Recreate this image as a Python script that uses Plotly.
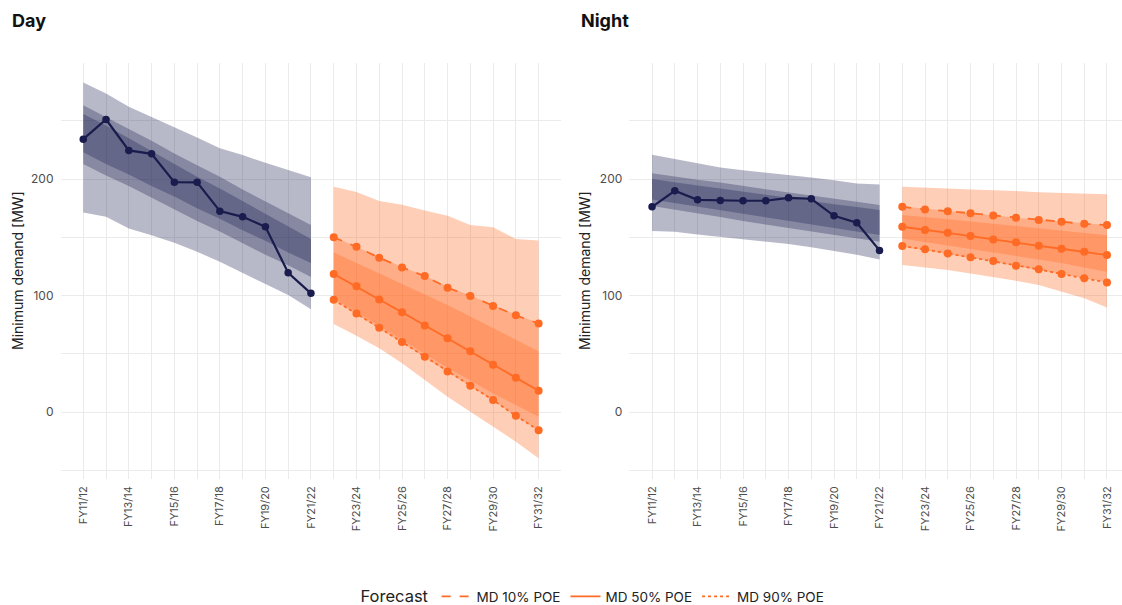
import plotly.graph_objects as go

# ---------------- data ----------------
fy_all = ["FY11/12", "FY12/13", "FY13/14", "FY14/15", "FY15/16", "FY16/17", "FY17/18",
          "FY18/19", "FY19/20", "FY20/21", "FY21/22", "FY22/23", "FY23/24", "FY24/25",
          "FY25/26", "FY26/27", "FY27/28", "FY28/29", "FY29/30", "FY30/31", "FY31/32"]
fy_actual = fy_all[:11]
fy_forecast = fy_all[11:]
tick_labels = ["FY11/12", "FY13/14", "FY15/16", "FY17/18", "FY19/20", "FY21/22",
               "FY23/24", "FY25/26", "FY27/28", "FY29/30", "FY31/32"]

# Day - actual and historical bands
day_actual = [234.3, 251.2, 224.6, 221.7, 197.4, 197.2, 172.5, 167.6, 159.1, 119.6, 101.9]
day_hist_outer_hi = [283.0, 273.6, 262.1, 253.5, 244.9, 235.8, 226.4, 220.6, 214.0, 207.7, 201.5]
day_hist_outer_lo = [171.4, 167.6, 157.7, 151.9, 145.3, 137.6, 129.0, 119.1, 109.9, 100.4, 88.2]
day_hist_mid_hi = [263.5, 253, 243, 233, 222, 212, 202, 191, 181, 171, 160.5]
day_hist_mid_lo = [213, 203, 194, 184, 174, 164, 155, 145, 135, 126, 116]
day_hist_in_hi = [256, 246, 235, 224, 213, 202, 192, 181, 170, 159, 148.5]
day_hist_in_lo = [223, 213, 204, 194, 185, 175, 166, 156, 147, 137, 128]

# Day - forecast
day_p10 = [150.0, 141.9, 132.4, 124.2, 116.7, 106.7, 99.6, 91.0, 83.0, 76.1]
day_p50 = [118.5, 107.9, 96.7, 85.6, 74.4, 63.3, 52.1, 40.6, 29.4, 18.3]
day_p90 = [96.4, 84.7, 72.4, 60.1, 47.5, 34.9, 22.6, 10.3, -3.2, -15.7]
day_fc_outer_hi = [193.4, 189, 181.3, 178, 173, 168.5, 160.5, 158.6, 148.5, 147.2]
day_fc_outer_lo = [75.5, 65.5, 54.7, 41.8, 27.5, 13.1, 0.3, -12.6, -25.5, -39.7]
day_fc_mid_hi = [150.5, 142, 133, 124.5, 117, 107.5, 100, 91.5, 83.5, 76.5]
day_fc_mid_lo = [96, 84, 72, 59.5, 47, 34.5, 22, 10, -3.5, -16]
day_fc_in_hi = [137, 128, 119, 110, 101, 92, 82, 72, 62, 52]
day_fc_in_lo = [98, 86, 74, 62, 50, 38, 27, 16, 6, -4]

# Night - actual and historical bands
night_actual = [176.2, 190.0, 182.2, 181.7, 181.4, 181.4, 183.9, 183.1, 168.5, 162.5, 138.8]
night_hist_outer_hi = [220.9, 217.2, 213.4, 210.0, 207.7, 205.7, 204.0, 201.4, 199.1, 196.3, 195.4]
night_hist_outer_lo = [155.4, 154.8, 152.5, 150.5, 148.5, 146.2, 144.2, 141.4, 138.2, 135.0, 131.0]
night_hist_mid_hi = [205, 202, 199.5, 197, 194, 191.5, 188.5, 186, 183, 180.5, 177.7]
night_hist_mid_lo = [177, 174, 170.5, 167.5, 164, 161, 158, 155, 152, 149, 146.2]
night_hist_in_hi = [200, 197, 194.5, 192, 189, 186.5, 184, 181, 178.5, 176, 173.4]
night_hist_in_lo = [182.6, 179.5, 176.5, 173, 170, 167, 164, 161, 158, 155, 152]

# Night - forecast
night_p10 = [176.2, 174.0, 172.5, 170.6, 168.8, 166.8, 164.8, 163.3, 161.6, 160.5]
night_p50 = [159.1, 156.2, 153.9, 151.1, 148.2, 145.7, 142.7, 140.2, 137.6, 134.8]
night_p90 = [142.5, 139.7, 136.2, 132.8, 129.6, 125.6, 122.5, 118.5, 114.8, 111.3]
night_fc_outer_hi = [193.4, 192.9, 192.0, 191.1, 190.6, 189.7, 188.8, 188.2, 187.7, 186.9]
night_fc_outer_lo = [126.2, 124.2, 121.9, 119.0, 116.1, 112.7, 109.0, 103.3, 97.6, 89.8]
night_fc_mid_hi = [176.5, 174.5, 173, 171, 169, 167, 165, 163.5, 162, 160.5]
night_fc_mid_lo = [142, 139, 136, 132.5, 129, 125.5, 122, 118.5, 115, 111.5]
night_fc_in_hi = [169.1, 167, 165.5, 163.5, 161.5, 160, 158, 156, 154, 151.9]
night_fc_in_lo = [149.1, 146, 143, 140, 137, 134, 131, 128, 124, 120.4]

y_ticks = [0, 100, 200]

# ---------------- styling ----------------
NAVY = "#1a1c4e"
ORANGE = "#ff6b24"
NAVY_FILL = "rgba(27,29,79,0.31)"
ORANGE_FILL = "rgba(255,107,36,0.33)"
FONT = "Inter, Lato, 'Noto Sans', sans-serif"
GRID = "#ebebeb"
TXT = "#4d4d4d"

W, H = 1122, 605
TOP, BOT = 63, 479
PH = BOT - TOP

pos = {lab: i for i, lab in enumerate(fy_all)}
xa = [pos[f] for f in fy_actual]
xf = [pos[f] for f in fy_forecast]
tickvals = [pos[t] for t in tick_labels]

fig = go.Figure()


def band(xs, lo, hi, fill, xax, yax):
    fig.add_trace(go.Scatter(x=xs, y=lo, mode="lines", line=dict(width=0),
                             showlegend=False, hoverinfo="skip", xaxis=xax, yaxis=yax))
    fig.add_trace(go.Scatter(x=xs, y=hi, mode="lines", line=dict(width=0),
                             fill="tonexty", fillcolor=fill,
                             showlegend=False, hoverinfo="skip", xaxis=xax, yaxis=yax))


panels = [
    ("x", "y", day_actual,
     (day_hist_outer_lo, day_hist_outer_hi), (day_hist_mid_lo, day_hist_mid_hi), (day_hist_in_lo, day_hist_in_hi),
     (day_fc_outer_lo, day_fc_outer_hi), (day_fc_mid_lo, day_fc_mid_hi), (day_fc_in_lo, day_fc_in_hi),
     day_p10, day_p50, day_p90),
    ("x2", "y2", night_actual,
     (night_hist_outer_lo, night_hist_outer_hi), (night_hist_mid_lo, night_hist_mid_hi), (night_hist_in_lo, night_hist_in_hi),
     (night_fc_outer_lo, night_fc_outer_hi), (night_fc_mid_lo, night_fc_mid_hi), (night_fc_in_lo, night_fc_in_hi),
     night_p10, night_p50, night_p90),
]

for (xax, yax, actual, ho, hm, hi_, fo, fm, fi, p10, p50, p90) in panels:
    for lo, hi in (ho, hm, hi_):
        band(xa, lo, hi, NAVY_FILL, xax, yax)
    for lo, hi in (fo, fm, fi):
        band(xf, lo, hi, ORANGE_FILL, xax, yax)
    fig.add_trace(go.Scatter(x=xa, y=actual, mode="lines+markers",
                             line=dict(color=NAVY, width=2.2), marker=dict(color=NAVY, size=7.5),
                             showlegend=False, xaxis=xax, yaxis=yax))
    for vals, dash in ((p10, "dash"), (p50, "solid"), (p90, "dot")):
        fig.add_trace(go.Scatter(x=xf, y=vals, mode="lines+markers",
                                 line=dict(color=ORANGE, width=1.8, dash=dash),
                                 marker=dict(color=ORANGE, size=8),
                                 showlegend=False, xaxis=xax, yaxis=yax))

# legend-only entries
for name, dash in (("MD 10% POE", "dash"), ("MD 50% POE", "solid"), ("MD 90% POE", "dot")):
    fig.add_trace(go.Scatter(x=[None], y=[None], mode="lines", name=name,
                             line=dict(color=ORANGE, width=1.8, dash=dash), xaxis="x", yaxis="y"))

xcommon = dict(
    tickmode="array", tickvals=tickvals, ticktext=tick_labels, tickangle=-90,
    tickfont=dict(family=FONT, size=11, color=TXT), ticks="", ticklabelstandoff=4,
    showgrid=True, gridcolor=GRID, gridwidth=1.2, zeroline=False, showline=False,
    automargin=False,
    minor=dict(tick0=0, dtick=1, showgrid=True, gridcolor=GRID, gridwidth=1.2),
)
ycommon = dict(
    range=[-57.5, 299.7], tickmode="array", tickvals=y_ticks,
    tickfont=dict(family=FONT, size=12, color=TXT), ticks="", ticklabelstandoff=6,
    showgrid=True, gridcolor=GRID, gridwidth=1.2, zeroline=False, showline=False,
    automargin=False,
    minor=dict(tick0=0, dtick=50, showgrid=True, gridcolor=GRID, gridwidth=1.2),
)

fig.update_layout(
    width=W, height=H,
    margin=dict(l=0, r=0, t=TOP, b=H - BOT, autoexpand=False),
    paper_bgcolor="white", plot_bgcolor="white",
    font=dict(family=FONT, color="#222"),
    xaxis=dict(domain=[60.5 / W, 560.7 / W], range=[-1, 20.97], anchor="y", **xcommon),
    xaxis2=dict(domain=[629.3 / W, 1.0], range=[-1, 20.66], anchor="y2", **xcommon),
    yaxis=dict(anchor="x", **ycommon),
    yaxis2=dict(anchor="x2", **ycommon),
    showlegend=True,
    legend=dict(orientation="h", x=594 / W, xanchor="center", y=(BOT - 597) / PH, yanchor="middle",
                traceorder="normal",
                title=dict(text="Forecast", font=dict(family=FONT, size=16.5, color="#222")),
                font=dict(family=FONT, size=13.5, color="#222"), bgcolor="rgba(0,0,0,0)"),
    annotations=[
        dict(text="<b>Day</b>", x=10 / W, y=(BOT - 20) / PH, xref="paper", yref="paper",
             xanchor="left", yanchor="middle", showarrow=False,
             font=dict(family=FONT, size=18, color="#111")),
        dict(text="<b>Night</b>", x=579 / W, y=(BOT - 20) / PH, xref="paper", yref="paper",
             xanchor="left", yanchor="middle", showarrow=False,
             font=dict(family=FONT, size=18, color="#111")),
        dict(text="Minimum demand [MW]", x=17 / W, y=(BOT - 271) / PH, xref="paper", yref="paper",
             xanchor="center", yanchor="middle", textangle=-90, showarrow=False,
             font=dict(family=FONT, size=14, color="#222")),
        dict(text="Minimum demand [MW]", x=584 / W, y=(BOT - 271) / PH, xref="paper", yref="paper",
             xanchor="center", yanchor="middle", textangle=-90, showarrow=False,
             font=dict(family=FONT, size=14, color="#222")),
    ],
)

fig.write_html(
    "out.html",
    config={"displayModeBar": False},
    post_script="document.body.style.margin='0';document.body.style.padding='0';"
                "document.documentElement.style.overflow='hidden';",
)
